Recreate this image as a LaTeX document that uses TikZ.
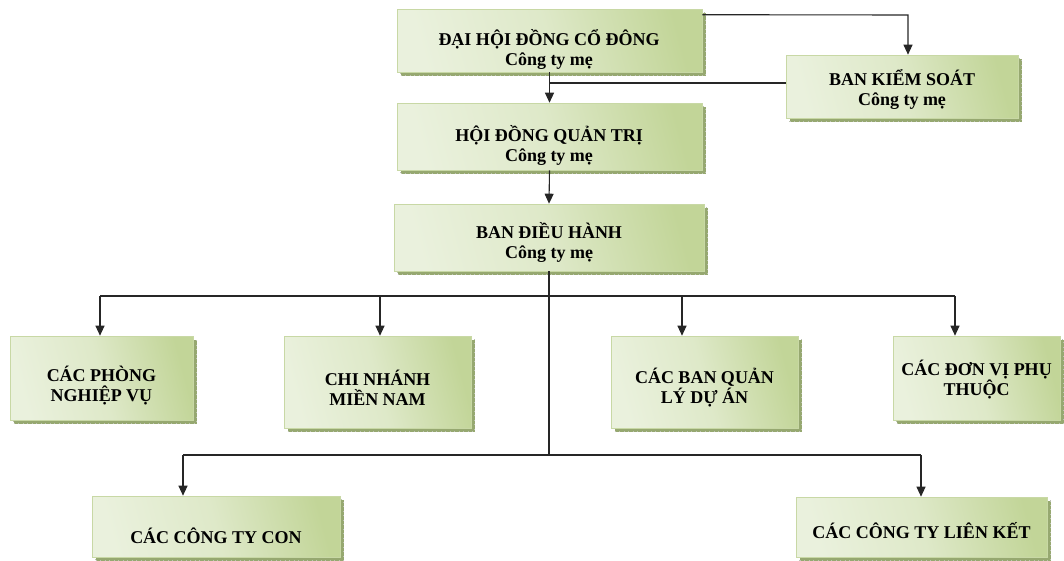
\documentclass[tikz,border=0pt]{standalone}
\usepackage{fontspec}
\setmainfont{Liberation Serif}
\usetikzlibrary{arrows.meta,shadows}
\definecolor{gL}{RGB}{234,241,221}
\definecolor{gD}{RGB}{194,213,152}
\definecolor{shg}{RGB}{150,168,112}
\definecolor{tick}{RGB}{190,195,180}
\definecolor{edge}{RGB}{200,216,165}
\tikzset{
  box/.style={draw=edge, line width=0.6pt, rectangle, inner sep=0pt,
    left color=gL, right color=gD, middle color=gL!70!gD, shading angle=105,
    drop shadow={shadow xshift=3.5pt, shadow yshift=-3.5pt, fill=shg, opacity=1,
      draw=tick, line width=0.8pt, dash pattern=on 1pt off 3.5pt}},
  txt/.style={font=\bfseries\fontsize{18}{20}\selectfont, align=center, inner sep=0pt},
  conn/.style={line width=1.1pt, draw=black!85},
  arr/.style={conn, -{Triangle[length=10pt,width=9pt]}}
}
\begin{document}
\begin{tikzpicture}[x=1pt,y=-1pt]
\useasboundingbox (0,0) rectangle (1064,560);
% boxes
\node[box, minimum width=305pt, minimum height=63pt] (dh) at (549.5,40.5) {};
\node[box, minimum width=232pt, minimum height=63pt] (bks) at (902,86.5) {};
\node[box, minimum width=305pt, minimum height=67pt] (hdqt) at (549.5,136.5) {};
\node[box, minimum width=310pt, minimum height=67pt] (bdh) at (549,237.5) {};
\node[box, minimum width=183pt, minimum height=84pt] (phong) at (101.5,378) {};
\node[box, minimum width=187pt, minimum height=92pt] (chi) at (377.5,382) {};
\node[box, minimum width=187pt, minimum height=92pt] (banql) at (704.5,382) {};
\node[box, minimum width=167pt, minimum height=84pt] (donvi) at (976.5,378) {};
\node[box, minimum width=248pt, minimum height=61pt] (con) at (216,526.5) {};
\node[box, minimum width=251pt, minimum height=60pt] (lk) at (921.5,527) {};
% texts
\node[txt] (tdh) at (549,49) {ĐẠI HỘI ĐỒNG CỔ ĐÔNG\\Công ty mẹ};
\node[txt] (tbks) at (902,89) {BAN KIỂM SOÁT\\Công ty mẹ};
\node[txt] (thdqt) at (549,145) {HỘI ĐỒNG QUẢN TRỊ\\Công ty mẹ};
\node[txt] (tbdh) at (549,242) {BAN ĐIỀU HÀNH\\Công ty mẹ};
\node[txt] (tphong) at (101.5,386) {CÁC PHÒNG\\NGHIỆP VỤ};
\node[txt] (tchi) at (377.5,388) {CHI NHÁNH\\MIỀN NAM};
\node[txt] (tbanql) at (704.5,388) {CÁC BAN QUẢN\\LÝ DỰ ÁN};
\node[txt] (tdonvi) at (976.5,380) {CÁC ĐƠN VỊ PHỤ\\THUỘC};
\node[txt] (tcon) at (216,536) {CÁC CÔNG TY CON};
\node[txt] (tlk) at (921.5,531) {CÁC CÔNG TY LIÊN KẾT};
% junction coordinates
\coordinate (j1) at (549.5,83);
\coordinate (j2) at (549,296);
\coordinate (b1) at (100,296);
\coordinate (b2) at (380,296);
\coordinate (b3) at (682,296);
\coordinate (b4) at (955,296);
\coordinate (j3) at (549,455);
\coordinate (c1) at (183,455);
\coordinate (c2) at (921,455);
\coordinate (k1) at (908,15);
% connectors
\draw[arr] ([yshift=-6pt]dh.north east) -- (k1) -- (k1 |- bks.north);
\draw[arr] (dh.south) -- (hdqt.north);
\draw[conn] (j1) -- (j1 -| bks.west);
\draw[arr] (hdqt.south) -- (bdh.north);
\draw[conn] (bdh.south) -- (j3);
\draw[conn] (b1) -- (b4);
\draw[conn] (c1) -- (c2);
\draw[arr] (b1) -- (b1 |- phong.north);
\draw[arr] (b2) -- (b2 |- chi.north);
\draw[arr] (b3) -- (b3 |- banql.north);
\draw[arr] (b4) -- (b4 |- donvi.north);
\draw[arr] (c1) -- (c1 |- con.north);
\draw[arr] (c2) -- (c2 |- lk.north);
\end{tikzpicture}
\end{document}
